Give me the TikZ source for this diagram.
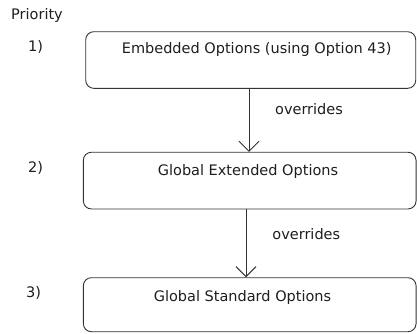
\documentclass[tikz,border=0pt]{standalone}
\usepackage{fontspec}
\setmainfont{DejaVu Sans}
\usetikzlibrary{arrows.meta}
\definecolor{linec}{HTML}{333333}
\definecolor{textc}{HTML}{1E1E1E}
\tikzset{
  box/.style={draw=linec, line width=0.9pt, rounded corners=8pt, inner sep=0pt},
  lbl/.style={anchor=base, inner sep=0pt, text=textc, font=\fontsize{14.5}{16}\selectfont},
  arr/.style={draw=linec, line width=0.9pt, -{Straight Barb[length=10pt, width=20pt, line width=0.9pt]}}
}
\begin{document}
\begin{tikzpicture}[x=1pt, y=-1pt]
\useasboundingbox (0,0) rectangle (417,333);
% boxes
\node[box, minimum width=330pt, minimum height=56.6pt] (b1) at (250.7,60) {};
\node[box, minimum width=332.7pt, minimum height=56.7pt] (b2) at (249.7,180.6) {};
\node[box, minimum width=332.7pt, minimum height=54pt] (b3) at (249.7,304.7) {};
% texts
\node[lbl, anchor=base west] (prio) at (11,19) {Priority};
\node[lbl] (n1) at (35.5,51) {1)};
\node[lbl] (n2) at (35.5,172) {2)};
\node[lbl] (n3) at (33.5,297) {3)};
\node[lbl] (t1) at (256.7,53.3) {Embedded Options (using Option 43)};
\node[lbl] (t2) at (248,175) {Global Extended Options};
\node[lbl] (t3) at (242.5,301) {Global Standard Options};
\node[lbl] (o1) at (309,114) {overrides};
\node[lbl] (o2) at (306.3,239.7) {overrides};
% connectors
\coordinate (c1) at (249,0);
\coordinate (c2) at (246,0);
\draw[arr] (b1.south -| c1) -- (b2.north -| c1);
\draw[arr] (b2.south -| c2) -- (b3.north -| c2);
\end{tikzpicture}
\end{document}
